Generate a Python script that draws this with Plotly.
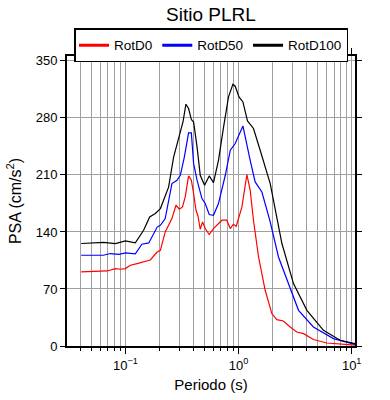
import plotly.graph_objects as go
import numpy as np

# Periods (s) and spectral accelerations (cm/s^2)
t_d0 = [0.0407, 0.0689, 0.0816, 0.0903, 0.1, 0.1106, 0.127, 0.145, 0.166, 0.191, 0.204,
        0.225, 0.258, 0.28, 0.30, 0.32, 0.338, 0.362, 0.383, 0.401, 0.421, 0.438, 0.459,
        0.481, 0.508, 0.551, 0.601, 0.713, 0.787, 0.846, 0.90, 0.955, 1.072, 1.186, 1.268,
        1.356, 1.503, 1.72, 1.97, 2.18, 2.49, 2.86, 3.27, 3.76, 4.59, 6.03, 8.0, 10.7]
rotd0 = [90.9, 92.1, 95, 94.2, 95, 99.1, 101.2, 103.2, 105.6, 115.4, 117.5,
         140, 156.4, 172.8, 167.9, 170.7, 183, 208.8, 203.5, 187.2, 166.6, 159.6, 143.3,
         152.3, 144.2, 136.8, 144.2, 154.4, 154.4, 144.2, 149.5, 147, 170.7, 210.5, 191.2,
         154.4, 109.3, 68.4, 39.8, 32.4, 30.7, 23.3, 17.2, 15.2, 7.9, 3.7, 2.0, 1.0]

t_d50 = [0.0407, 0.064, 0.0738, 0.088, 0.1, 0.1225, 0.140, 0.161, 0.191, 0.204, 0.225,
         0.258, 0.286, 0.306, 0.332, 0.362, 0.383, 0.401, 0.430, 0.475, 0.508, 0.551, 0.601,
         0.665, 0.764, 0.846, 0.935, 1.094, 1.268, 1.403, 1.609, 1.906, 2.255, 2.86, 3.39,
         4.59, 6.9, 10.7]
rotd50 = [111.4, 111.4, 113.5, 112.5, 114.2, 113, 124.9, 126.5, 146, 148.2, 156.4,
          199.4, 203.5, 209.6, 232, 261.6, 261.6, 224, 203.5, 181, 174.9, 161.4, 160.5,
          174.9, 209.6, 240.3, 248.5, 270.2, 228, 201.4, 189, 152.3, 109.3, 72.5, 43.8,
          23.3, 9.1, 2.0]

t_d100 = [0.0407, 0.0643, 0.0816, 0.1, 0.1225, 0.145, 0.164, 0.184, 0.204, 0.241, 0.267,
          0.296, 0.323, 0.343, 0.362, 0.383, 0.401, 0.430, 0.459, 0.501, 0.551, 0.601, 0.665,
          0.738, 0.816, 0.892, 0.935, 1.01, 1.094, 1.2, 1.356, 1.554, 1.906, 2.418, 3.06,
          4.02, 5.63, 7.9, 10.7]
rotd100 = [125.8, 127.3, 125.8, 129, 126.5, 142, 158.4, 162.6, 168.7, 195, 232,
           256.7, 275, 296.8, 291.5, 278, 275, 244.4, 209.6, 197.3, 208.8, 200.6, 228,
           269, 305.8, 321.4, 318.9, 305.8, 299.6, 276.3, 267, 240.3, 199.4, 125.8, 76.6,
           43.8, 19.3, 7, 3]

series_names = ["RotD0", "RotD50", "RotD100"]
series_colors = ["#ff0000", "#0000ff", "#000000"]

x_tickvals = [0.1, 1, 10]
x_ticktext = ["10<sup>\u22121</sup>", "10<sup>0</sup>", "10<sup>1</sup>"]
y_tickvals = [0, 70, 140, 210, 280, 350]

font = "Liberation Sans, Arial, sans-serif"

fig = go.Figure()
for xs, ys, nm, col in zip([t_d0, t_d50, t_d100], [rotd0, rotd50, rotd100],
                           series_names, series_colors):
    fig.add_trace(go.Scatter(x=xs, y=ys, mode="lines", name=nm, legendgroup=nm,
                             showlegend=False, line=dict(color=col, width=1.2)))
# legend entries with thicker line samples
for nm, col in zip(series_names, series_colors):
    fig.add_trace(go.Scatter(x=[None], y=[None], mode="lines", name=nm, legendgroup=nm,
                             showlegend=True, line=dict(color=col, width=3)))

fig.update_layout(
    width=390, height=400,
    margin=dict(l=67, r=35, t=56, b=54, autoexpand=False),
    paper_bgcolor="white", plot_bgcolor="white",
    font=dict(family=font, color="black", size=13),
    title=dict(text="Sitio PLRL", x=0.5, xref="paper", xanchor="center",
               y=0.965, yanchor="middle", font=dict(size=19, color="black")),
    legend=dict(orientation="h", x=0.5, xanchor="center", y=1.095, yanchor="top",
                bordercolor="black", borderwidth=1.5, font=dict(size=13.5),
                itemwidth=30, tracegroupgap=0, bgcolor="white"),
    showlegend=True,
)

fig.update_xaxes(
    type="log", range=[np.log10(0.0305), np.log10(10.7)],
    tickvals=x_tickvals, ticktext=x_ticktext,
    ticks="outside", ticklen=6, tickcolor="black", tickwidth=1,
    showgrid=True, gridcolor="#a0a0a0", gridwidth=1,
    minor=dict(dtick="D1", ticks="outside", ticklen=3, tickcolor="black",
               showgrid=True, gridcolor="#a0a0a0", gridwidth=1),
    showline=True, linecolor="black", linewidth=2, mirror="allticks",
    zeroline=False, tickfont=dict(size=13),
    title=dict(text="Periodo (s)", font=dict(size=15), standoff=8),
)
fig.update_yaxes(
    range=[0, 356], tickvals=y_tickvals,
    ticks="outside", ticklen=5, tickcolor="black", tickwidth=1,
    showgrid=True, gridcolor="#a0a0a0", gridwidth=1,
    showline=True, linecolor="black", linewidth=2, mirror="allticks",
    zeroline=False, tickfont=dict(size=13),
    title=dict(text="PSA (cm/s<sup>2</sup>)", font=dict(size=16), standoff=10),
)

fig.write_html("out.html", config={"displayModeBar": False},
               post_script="document.body.style.margin='0';")
